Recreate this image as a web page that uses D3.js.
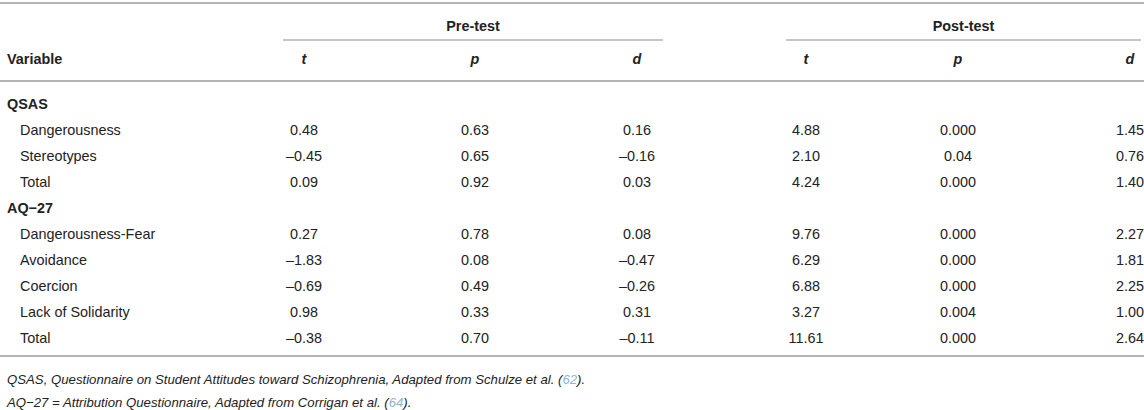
<!DOCTYPE html>
<html><head><meta charset="utf-8">
<script src="https://cdn.jsdelivr.net/npm/d3@7"></script>
<style>
html,body{margin:0;padding:0;background:#fff;}
svg{display:block;font-family:"Liberation Sans",Arial,Helvetica,sans-serif;}
</style></head>
<body>
<svg id="chart" width="1144" height="410"></svg>
<script>
const rowLabels = ["QSAS","Dangerousness","Stereotypes","Total","AQ\u221227","Dangerousness-Fear","Avoidance","Coercion","Lack of Solidarity","Total"];
const groupRows = [true,false,false,false,true,false,false,false,false,false];
const preT  = [null,"0.48","\u20130.45","0.09",null,"0.27","\u20131.83","\u20130.69","0.98","\u20130.38"];
const preP  = [null,"0.63","0.65","0.92",null,"0.78","0.08","0.49","0.33","0.70"];
const preD  = [null,"0.16","\u20130.16","0.03",null,"0.08","\u20130.47","\u20130.26","0.31","\u20130.11"];
const postT = [null,"4.88","2.10","4.24",null,"9.76","6.29","6.88","3.27","11.61"];
const postP = [null,"0.000","0.04","0.000",null,"0.000","0.000","0.000","0.004","0.000"];
const postD = [null,"1.45","0.76","1.40",null,"2.27","1.81","2.25","1.00","2.64"];
const columnKeys = ["preT","preP","preD","postT","postP","postD"];
const columnHeads = ["t","p","d","t","p","d"];
const spanners = ["Pre-test","Post-test"];
const footnotes = [
  ["QSAS, Questionnaire on Student Attitudes toward Schizophrenia, Adapted from Schulze et al. (", "62", ")."],
  ["AQ\u221227 = Attribution Questionnaire, Adapted from Corrigan et al. (", "64", ")."]
];

const columns = [preT,preP,preD,postT,postP,postD];
const svg = d3.select("#chart");
const W = 1144;
const textCol = "#222";
const lineCol = "#b4b4b4";
const fs = 14.4;

const xCol = d3.scaleOrdinal().domain(columnKeys).range([304,475,637,806,958,1130]);
const xSpan = d3.scaleOrdinal().domain(spanners).range([[283,663],[786,1141]]);
const yRow = d3.scalePoint().domain(d3.range(rowLabels.length)).range([104,338]);

const hl = (x1,x2,y,w)=>svg.append("line").attr("x1",x1).attr("x2",x2).attr("y1",y).attr("y2",y)
  .attr("stroke",lineCol).attr("stroke-width",w);
hl(0,W,3,2);
hl(0,W,81,2);
hl(0,W,356,2);
spanners.forEach(s=>{const r=xSpan(s); hl(r[0],r[1],40,1.5);});

svg.selectAll("text.span").data(spanners).join("text").attr("class","span")
  .attr("x",d=>(xSpan(d)[0]+xSpan(d)[1])/2).attr("y",31)
  .attr("text-anchor","middle").attr("font-size",fs).attr("font-weight","bold").attr("fill",textCol)
  .text(d=>d);

svg.append("text").attr("x",7).attr("y",64).attr("font-size",fs).attr("font-weight","bold").attr("fill",textCol).text("Variable");
svg.selectAll("text.ch").data(columnKeys).join("text").attr("class","ch")
  .attr("x",d=>xCol(d)).attr("y",64).attr("text-anchor","middle")
  .attr("font-size",fs).attr("font-weight","bold").attr("font-style","italic").attr("fill",textCol)
  .text((d,i)=>columnHeads[i]);

svg.selectAll("text.rl").data(rowLabels).join("text").attr("class","rl")
  .attr("x",(d,i)=>groupRows[i]?7:20).attr("y",(d,i)=>yRow(i)+5)
  .attr("font-size",fs).attr("font-weight",(d,i)=>groupRows[i]?"bold":"normal").attr("fill",textCol)
  .text(d=>d);

columnKeys.forEach((k,ci)=>{
  svg.selectAll("text.c"+ci).data(columns[ci].map((v,i)=>({v,i})).filter(d=>d.v!==null))
    .join("text").attr("class","c"+ci)
    .attr("x",xCol(k)).attr("y",d=>yRow(d.i)+5).attr("text-anchor","middle")
    .attr("font-size",fs).attr("fill",textCol).text(d=>d.v);
});

footnotes.forEach((f,i)=>{
  const t = svg.append("text").attr("x",7).attr("y",384+i*23).attr("font-size",13.2).attr("font-style","italic").attr("fill",textCol);
  t.append("tspan").text(f[0]);
  t.append("tspan").attr("fill","#8fb4d9").text(f[1]);
  t.append("tspan").text(f[2]);
});
</script>
</body></html>
